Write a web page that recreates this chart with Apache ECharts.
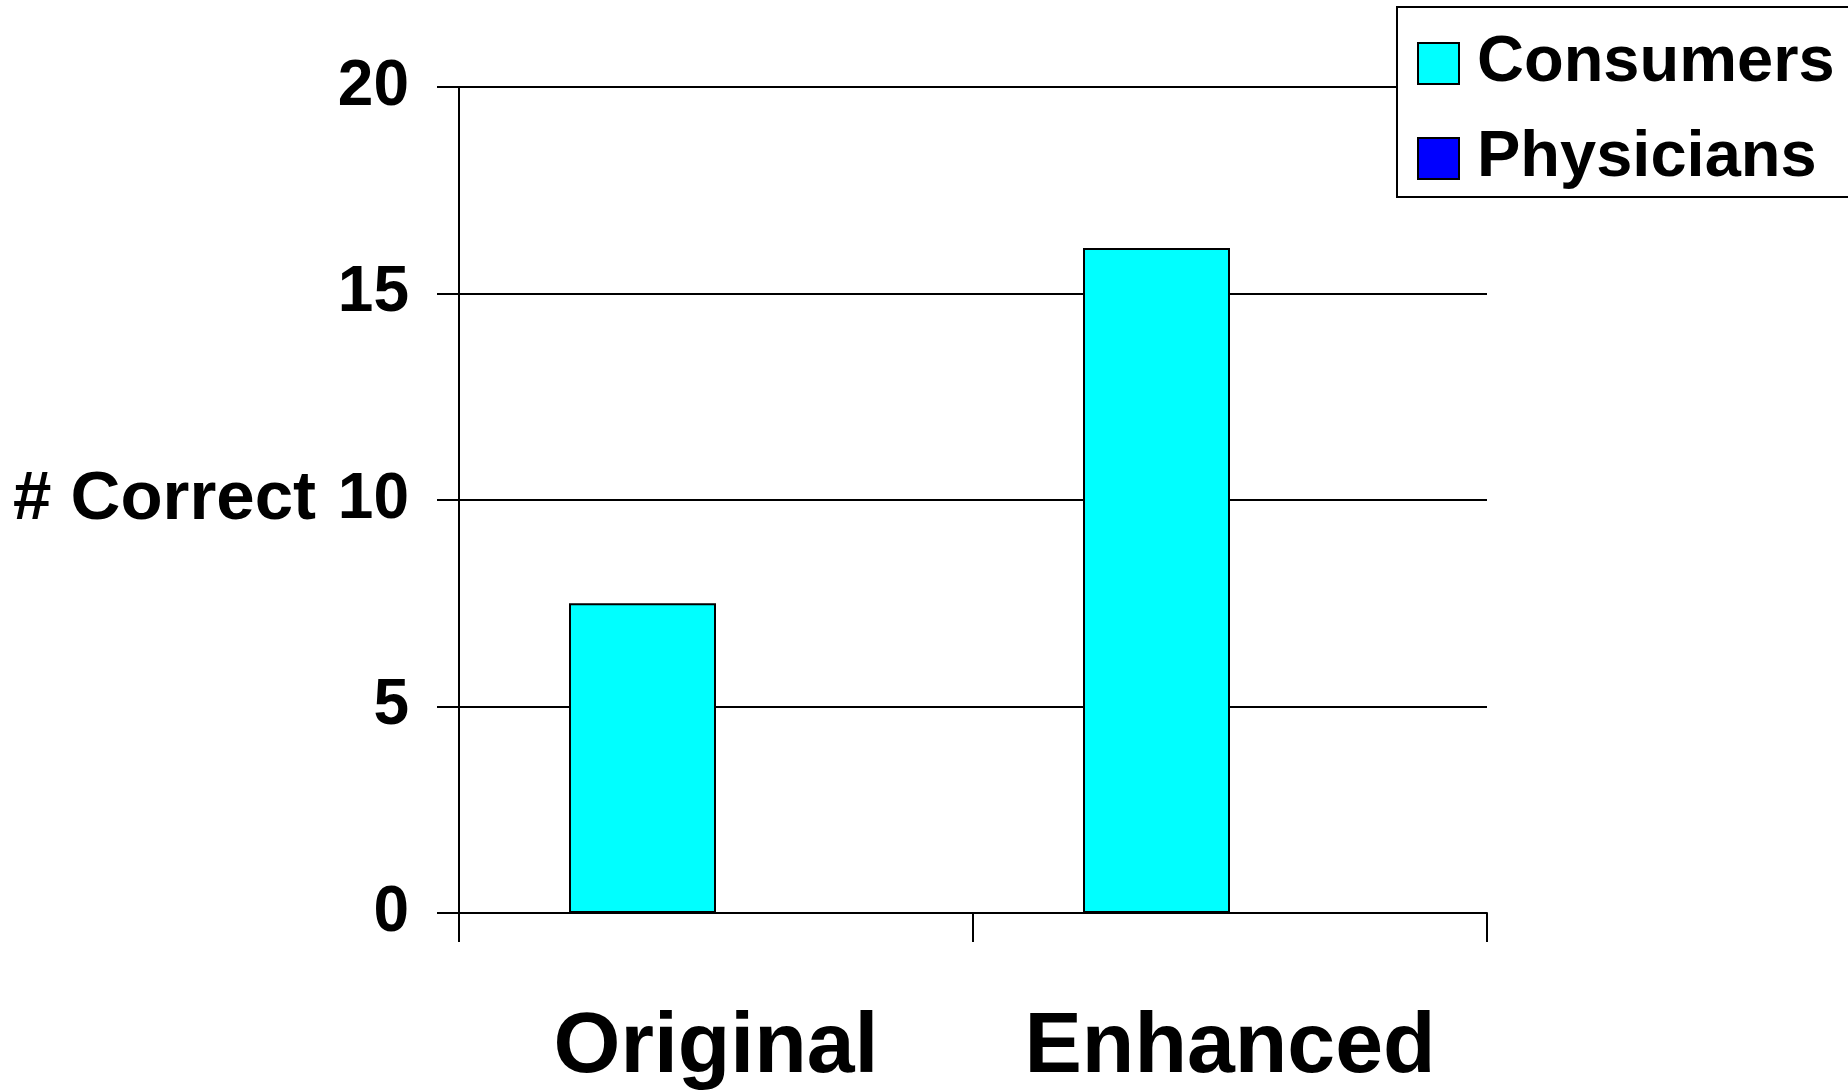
<!DOCTYPE html>
<html>
<head>
<meta charset="utf-8">
<script src="https://cdn.jsdelivr.net/npm/echarts@6/dist/echarts.min.js"></script>
<style>
html,body{margin:0;padding:0;background:#fff;}
#chart{width:1848px;height:1091px;}
</style>
</head>
<body>
<div id="chart"></div>
<script>
// Data
const categories = ['Original', 'Enhanced'];
const consumersValues = [7.5, 16.1];
const physiciansValues = [null, null];
const seriesNames = ['Consumers', 'Physicians'];
const yTicks = [0, 5, 10, 15, 20];

const FONT = '"Liberation Sans", Arial, Helvetica, sans-serif';
const chart = echarts.init(document.getElementById('chart'));
chart.setOption({
  animation: false,
  backgroundColor: '#ffffff',
  grid: { left: 459, right: 361, top: 87, bottom: 178, containLabel: false },
  legend: {
    orient: 'vertical',
    left: 1397, top: 7,
    padding: [24, 40, 6, 20],
    itemWidth: 41, itemHeight: 41, itemGap: 30,
    icon: 'rect',
    borderColor: '#000', borderWidth: 2,
    backgroundColor: '#fff',
    textStyle: { fontFamily: FONT, fontWeight: 'bold', fontSize: 65, color: '#000', padding: [0, 0, 0, 13] },
    data: seriesNames
  },
  xAxis: {
    type: 'category',
    data: categories,
    axisLine: { show: true, lineStyle: { color: '#000', width: 2 } },
    axisTick: { show: true, interval: 0, length: 29, lineStyle: { color: '#000', width: 2 } },
    axisLabel: { interval: 0, hideOverlap: false, fontFamily: FONT, fontWeight: 'bold', fontSize: 86, color: '#000', margin: 92 },
    splitLine: { show: false }
  },
  yAxis: {
    type: 'value',
    min: yTicks[0], max: yTicks[yTicks.length - 1], interval: 5,
    name: '# Correct',
    nameLocation: 'middle', nameRotate: 0, nameGap: 143,
    nameTextStyle: { fontFamily: FONT, fontWeight: 'bold', fontSize: 69, color: '#000', align: 'right', verticalAlign: 'middle' },
    axisLine: { show: true, lineStyle: { color: '#000', width: 2 } },
    axisTick: { show: true, length: 22, lineStyle: { color: '#000', width: 2 } },
    axisLabel: { fontFamily: FONT, fontWeight: 'bold', fontSize: 64, color: '#000', margin: 50 },
    splitLine: { show: true, lineStyle: { color: '#000', width: 2 } }
  },
  series: [
    {
      name: seriesNames[0], type: 'bar', data: consumersValues,
      barWidth: 147, barGap: '0%',
      itemStyle: { color: '#00FFFF', borderColor: '#000', borderWidth: 2 }
    },
    {
      name: seriesNames[1], type: 'bar', data: physiciansValues,
      barWidth: 147, barGap: '0%',
      itemStyle: { color: '#0000FF', borderColor: '#000', borderWidth: 2 }
    }
  ]
});
</script>
</body>
</html>
